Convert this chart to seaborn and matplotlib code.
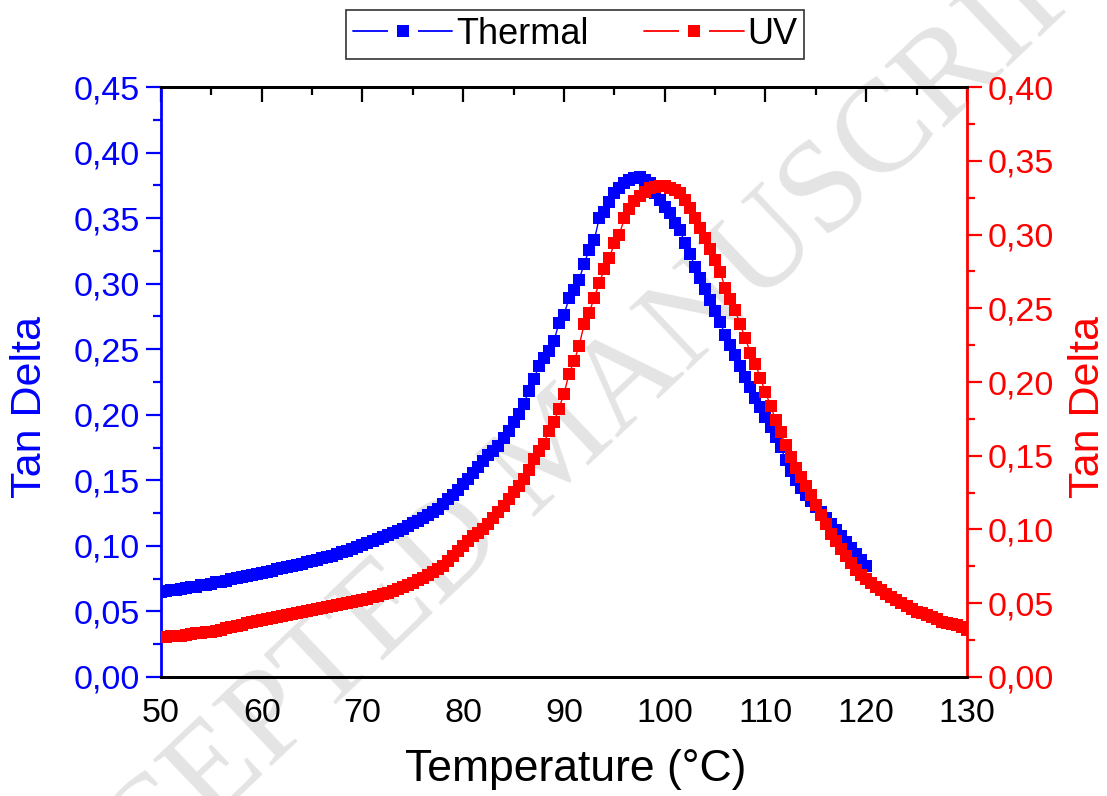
import numpy as np
import matplotlib
matplotlib.use("Agg")
import matplotlib.pyplot as plt
import seaborn as sns
from matplotlib.lines import Line2D
from matplotlib.ticker import MultipleLocator, FuncFormatter

# temperature grids (°C)
temp_thermal = np.arange(50.0, 120.01, 0.5)
temp_uv = np.arange(50.0, 130.01, 0.5)

# tan delta, thermal cure (left axis)
tan_thermal = [
    0.0650, 0.0655, 0.0660, 0.0665, 0.0670, 0.0678, 0.0685, 0.0690, 0.0698, 0.0705,
    0.0712, 0.0722, 0.0728, 0.0735, 0.0745, 0.0752, 0.0760, 0.0768, 0.0775, 0.0785,
    0.0795, 0.0800, 0.0805, 0.0825, 0.0830, 0.0838, 0.0845, 0.0855, 0.0865, 0.0875,
    0.0885, 0.0895, 0.0905, 0.0915, 0.0925, 0.0938, 0.0950, 0.0962, 0.0975, 0.0990,
    0.1005, 0.1020, 0.1035, 0.1050, 0.1065, 0.1080, 0.1098, 0.1115, 0.1132, 0.1152,
    0.1172, 0.1192, 0.1215, 0.1238, 0.1260, 0.1285, 0.1320, 0.1355, 0.1390, 0.1430,
    0.1470, 0.1510, 0.1555, 0.1600, 0.1650, 0.1690, 0.1725, 0.1765, 0.1820, 0.1880,
    0.1945, 0.2005, 0.2080, 0.2180, 0.2270, 0.2370, 0.2430, 0.2490, 0.2560, 0.2700,
    0.2760, 0.2890, 0.2950, 0.3030, 0.3150, 0.3260, 0.3330, 0.3500, 0.3550, 0.3620,
    0.3690, 0.3730, 0.3765, 0.3790, 0.3805, 0.3810, 0.3790, 0.3766, 0.3690, 0.3638,
    0.3587, 0.3537, 0.3460, 0.3410, 0.3310, 0.3230, 0.3130, 0.3040, 0.2960, 0.2875,
    0.2790, 0.2705, 0.2610, 0.2535, 0.2455, 0.2370, 0.2290, 0.2215, 0.2126, 0.2062,
    0.1986, 0.1910, 0.1833, 0.1757, 0.1655, 0.1570, 0.1500, 0.1440, 0.1390, 0.1345,
    0.1300, 0.1255, 0.1210, 0.1165, 0.1120, 0.1075, 0.1030, 0.0985, 0.0940, 0.0895,
    0.0850,
]

# tan delta, UV cure (right axis)
tan_uv = [
    0.0270, 0.0270, 0.0275, 0.0280, 0.0280, 0.0285, 0.0290, 0.0295, 0.0300, 0.0303,
    0.0305, 0.0310, 0.0320, 0.0335, 0.0340, 0.0345, 0.0350, 0.0365, 0.0370, 0.0378,
    0.0385, 0.0390, 0.0398, 0.0405, 0.0415, 0.0420, 0.0430, 0.0435, 0.0442, 0.0450,
    0.0455, 0.0462, 0.0470, 0.0475, 0.0482, 0.0490, 0.0495, 0.0502, 0.0510, 0.0515,
    0.0522, 0.0532, 0.0540, 0.0550, 0.0560, 0.0570, 0.0580, 0.0595, 0.0608, 0.0622,
    0.0638, 0.0655, 0.0672, 0.0690, 0.0710, 0.0730, 0.0755, 0.0785, 0.0820, 0.0855,
    0.0885, 0.0920, 0.0955, 0.0975, 0.1005, 0.1040, 0.1080, 0.1120, 0.1160, 0.1205,
    0.1255, 0.1295, 0.1340, 0.1400, 0.1480, 0.1530, 0.1580, 0.1670, 0.1730, 0.1820,
    0.1920, 0.2055, 0.2140, 0.2245, 0.2390, 0.2470, 0.2570, 0.2670, 0.2765, 0.2840,
    0.2940, 0.3000, 0.3110, 0.3170, 0.3225, 0.3260, 0.3290, 0.3313, 0.3324, 0.3326,
    0.3326, 0.3318, 0.3300, 0.3278, 0.3235, 0.3180, 0.3115, 0.3045, 0.2978, 0.2900,
    0.2830, 0.2745, 0.2640, 0.2560, 0.2485, 0.2390, 0.2295, 0.2200, 0.2125, 0.2025,
    0.1930, 0.1840, 0.1745, 0.1660, 0.1570, 0.1490, 0.1420, 0.1355, 0.1295, 0.1235,
    0.1165, 0.1100, 0.1035, 0.0970, 0.0920, 0.0870, 0.0820, 0.0770, 0.0728, 0.0692,
    0.0663, 0.0635, 0.0608, 0.0590, 0.0562, 0.0545, 0.0525, 0.0505, 0.0480, 0.0460,
    0.0438, 0.0432, 0.0422, 0.0408, 0.0390, 0.0375, 0.0368, 0.0360, 0.0350, 0.0341,
    0.0320,
]

BLUE = "#0000ff"
RED = "#ff0000"

sns.set_theme(style="white")
plt.rcParams["font.family"] = ["Liberation Sans", "DejaVu Sans"]
plt.rcParams.update({"text.color": "black", "axes.labelcolor": "black",
                     "xtick.color": "black", "ytick.color": "black"})

fig = plt.figure(figsize=(11.07, 7.96), dpi=100)
ax1 = fig.add_axes([0.1454, 0.1495, 0.7281, 0.7412])
ax2 = ax1.twinx()
ax1.set_facecolor("none")

# faint diagonal watermark behind the data
ax1.text(0.505, 0.435, "ACCEPTED MANUSCRIPT", transform=fig.transFigure,
         rotation=43.5, ha="center", va="center", fontsize=95,
         family="Liberation Serif", color="#e4e4e4", zorder=0, clip_on=False)

ms = 8.0
mk = dict(marker="s", markersize=ms, markeredgewidth=0, linewidth=1.0)
sns.lineplot(x=temp_thermal, y=tan_thermal, ax=ax1, color=BLUE,
             legend=False, zorder=3, **mk)
sns.lineplot(x=temp_uv, y=tan_uv, ax=ax2, color=RED,
             legend=False, zorder=3, **mk)

comma = FuncFormatter(lambda v, _: f"{v:.2f}".replace(".", ","))

ax1.set_xlim(50, 130)
ax1.set_ylim(0, 0.45)
ax2.set_ylim(0, 0.40)
ax1.xaxis.set_major_locator(MultipleLocator(10))
ax1.xaxis.set_minor_locator(MultipleLocator(5))
for ax in (ax1, ax2):
    ax.yaxis.set_major_locator(MultipleLocator(0.05))
    ax.yaxis.set_minor_locator(MultipleLocator(0.025))
    ax.yaxis.set_major_formatter(comma)

fs_tick = 24.5
fs_label = 31
ax1.tick_params(axis="x", which="both", direction="out", length=11, width=1.6,
                color="black", labelsize=fs_tick, labelcolor="black", pad=4)
ax1.tick_params(axis="y", which="major", direction="out", length=11, width=1.6,
                color=BLUE, labelsize=fs_tick, labelcolor=BLUE, pad=4)
ax1.tick_params(axis="y", which="minor", direction="out", length=6, width=1.6,
                color=BLUE)
ax2.tick_params(axis="y", which="major", direction="out", length=11, width=1.6,
                color=RED, labelsize=fs_tick, labelcolor=RED, pad=4)
ax2.tick_params(axis="y", which="minor", direction="out", length=6, width=1.6,
                color=RED)

# top axis: inward ticks, no labels
top = ax1.secondary_xaxis("top")
top.xaxis.set_major_locator(MultipleLocator(10))
top.xaxis.set_minor_locator(MultipleLocator(5))
top.tick_params(which="major", direction="in", length=11, width=1.6,
                color="black", labeltop=False)
top.tick_params(which="minor", direction="in", length=6, width=1.6, color="black")
top.spines["top"].set_linewidth(2)
top.spines["top"].set_color("black")

for ax in (ax1, ax2):
    for s in ax.spines.values():
        s.set_linewidth(2)
        s.set_color("black")
ax1.spines["left"].set_color(BLUE)
ax2.spines["left"].set_visible(False)
ax2.spines["right"].set_color(RED)
ax1.spines["right"].set_visible(False)

ax1.set_xlabel("Temperature (°C)", fontsize=32)
ax1.xaxis.set_label_coords(0.514, -0.122)
ax1.set_ylabel("Tan Delta", fontsize=fs_label, color=BLUE)
ax2.set_ylabel("Tan Delta", fontsize=fs_label, color=RED)
ax1.yaxis.label.set_va("center")
ax2.yaxis.label.set_va("center")
ax1.yaxis.set_label_coords(-0.1625, 0.458)
ax2.yaxis.set_label_coords(1.150, 0.458)


# legend keys in the Origin style: line - gap - square - gap - line
def key(color):
    gap = Line2D([], [], color=color, lw=1.3, marker="s", markersize=ms + 14,
                 markerfacecolor="white", markeredgewidth=0)
    dot = Line2D([], [], ls="none", marker="s", markersize=ms,
                 markerfacecolor=color, markeredgewidth=0)
    return (gap, dot)


leg = fig.legend([key(BLUE), key(RED)], ["Thermal", "UV"], loc="upper center",
                 bbox_to_anchor=(0.5195, 0.988), borderaxespad=0, ncol=2,
                 fontsize=26, frameon=True, fancybox=False, edgecolor="black",
                 handlelength=2.75, handletextpad=0.1, columnspacing=1.55,
                 borderpad=0.2, numpoints=1)
leg.get_frame().set_linewidth(1.2)

fig.savefig("out.png", dpi=100)
